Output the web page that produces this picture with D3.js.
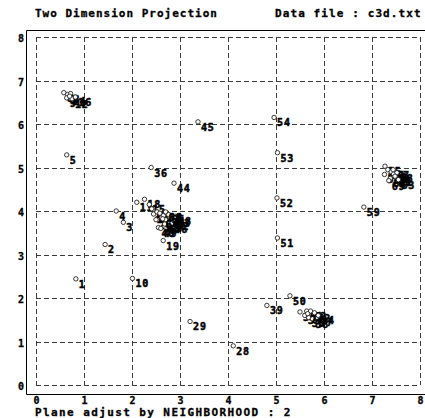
<!DOCTYPE html>
<html>
<head>
<meta charset="utf-8">
<script src="https://cdn.jsdelivr.net/npm/d3@7"></script>
<style>
  html, body { margin: 0; padding: 0; background: #fff; }
  svg { display: block; }
  text { font-family: "DejaVu Sans Mono", "Liberation Mono", monospace; font-weight: bold; fill: #000; }
</style>
</head>
<body>
<svg id="chart" width="425" height="418"></svg>
<script>
// Projected samples: id, x, y
const ids = [1, 2, 3, 4, 5, 10, 19, 28, 29, 36, 39, 44, 45, 50, 51, 52, 53, 54, 59,
  6, 7, 8, 9, 12, 14, 16,
  11, 18, 15, 13, 17, 20, 21, 22, 23, 24, 25, 26, 27, 40, 41, 42, 43, 46, 47, 48, 49, 64, 65, 66,
  55, 56, 57, 58, 60, 61, 62, 67, 68, 69, 70, 63,
  30, 31, 32, 33, 35, 37, 38, 71, 72, 34];
const xs = [0.83, 1.44, 1.82, 1.67, 0.64, 2.01, 2.65, 4.11, 3.21, 2.40, 4.81, 2.875, 3.375, 5.29, 5.03, 5.02, 5.03, 4.96, 6.83,
  0.58, 0.66, 0.72, 0.64, 0.75, 0.70, 0.82,
  2.10, 2.26, 2.36, 2.41, 2.45, 2.50, 2.52, 2.58, 2.62, 2.66, 2.70, 2.72, 2.75, 2.55, 2.78, 2.85, 2.88, 2.82, 2.68, 2.90, 2.60, 2.64, 2.76, 2.70,
  7.27, 7.26, 7.33, 7.40, 7.45, 7.50, 7.38, 7.44, 7.52, 7.35, 7.48, 7.55,
  5.50, 5.64, 5.72, 5.60, 5.68, 5.85, 5.76, 5.66, 5.80, 5.88];
const ys = [2.44, 3.23, 3.74, 4.00, 5.29, 2.45, 3.32, 0.90, 1.46, 5.00, 1.83, 4.64, 6.05, 2.05, 3.38, 4.30, 5.34, 6.15, 4.09,
  6.72, 6.68, 6.70, 6.60, 6.58, 6.64, 6.62,
  4.20, 4.27, 4.15, 4.05, 3.93, 3.80, 3.98, 3.95, 3.85, 3.90, 3.80, 3.95, 3.72, 3.62, 3.88, 3.78, 3.85, 3.70, 3.70, 3.88, 3.60, 3.82, 3.92, 3.98,
  5.03, 4.84, 4.95, 4.90, 4.85, 4.78, 4.75, 4.95, 4.88, 4.70, 4.80, 4.72,
  1.68, 1.70, 1.70, 1.60, 1.55, 1.56, 1.52, 1.64, 1.66, 1.60];

const tickValues = [0, 1, 2, 3, 4, 5, 6, 7, 8];
const titleLeft = "Two Dimension Projection";
const titleRight = "Data file : c3d.txt";
const footer = "Plane adjust by NEIGHBORHOOD : 2";

const points = ids.map((id, i) => ({ id, x: xs[i], y: ys[i] }));

const svg = d3.select("#chart");
const x = d3.scaleLinear().domain([0, 8]).range([36, 420]);
const y = d3.scaleLinear().domain([0, 8]).range([385, 37]);

// Headings
const heading = (tx, ty, s, ls) => svg.append("text").attr("x", tx).attr("y", ty)
  .attr("font-size", 11).attr("letter-spacing", ls)
  .attr("stroke", "#000").attr("stroke-width", 0.3).text(s);
heading(35, 17, titleLeft, 1);
heading(275, 17, titleRight, 1.1);
heading(35, 416, footer, 1.4);

// Outer frame (left, top, bottom)
svg.append("path")
  .attr("d", "M425,30.5H26.5V394.5H425")
  .attr("fill", "none").attr("stroke", "#000").attr("stroke-width", 1);

// Dashed grid
const grid = svg.append("g").attr("stroke", "#3a3a3a").attr("stroke-width", 1)
  .attr("stroke-dasharray", "5,3").attr("fill", "none");
grid.selectAll("line.v").data(tickValues).join("line").attr("class", "v")
  .attr("x1", d => Math.round(x(d)) + 0.5).attr("x2", d => Math.round(x(d)) + 0.5)
  .attr("y1", y(8)).attr("y2", y(0));
grid.selectAll("line.h").data(tickValues).join("line").attr("class", "h")
  .attr("y1", d => Math.round(y(d)) + 0.5).attr("y2", d => Math.round(y(d)) + 0.5)
  .attr("x1", x(0)).attr("x2", x(8));

// Axis tick labels
const xAxis = svg.append("g").attr("transform", "translate(0,388)")
  .call(d3.axisBottom(x).tickValues(tickValues).tickSize(0).tickPadding(9).tickFormat(d3.format("d")));
xAxis.select(".domain").remove();
xAxis.selectAll("text").attr("font-size", 10).attr("font-family", null).attr("font-weight", null)
  .attr("stroke", "#000").attr("stroke-width", 0.3);

const yAxis = svg.append("g").attr("transform", "translate(26,0)")
  .call(d3.axisLeft(y).tickValues(tickValues).tickSize(0).tickPadding(2).tickFormat(d3.format("d")));
yAxis.select(".domain").remove();
yAxis.selectAll("text").attr("font-size", 10).attr("font-family", null).attr("font-weight", null)
  .attr("dy", "0.45em").attr("stroke", "#000").attr("stroke-width", 0.3);

// Points with their id labels
const pts = svg.append("g");
points.forEach(p => {
  const cx = x(p.x), cy = y(p.y);
  pts.append("circle").attr("cx", cx).attr("cy", cy).attr("r", 2.2)
    .attr("fill", "#fff").attr("stroke", "#222").attr("stroke-width", 0.9);
  pts.append("text").attr("x", cx + 3).attr("y", cy + 9)
    .attr("font-size", 10).attr("letter-spacing", 0.8)
    .attr("stroke", "#000").attr("stroke-width", 0.5).text(p.id);
});
</script>
</body>
</html>
